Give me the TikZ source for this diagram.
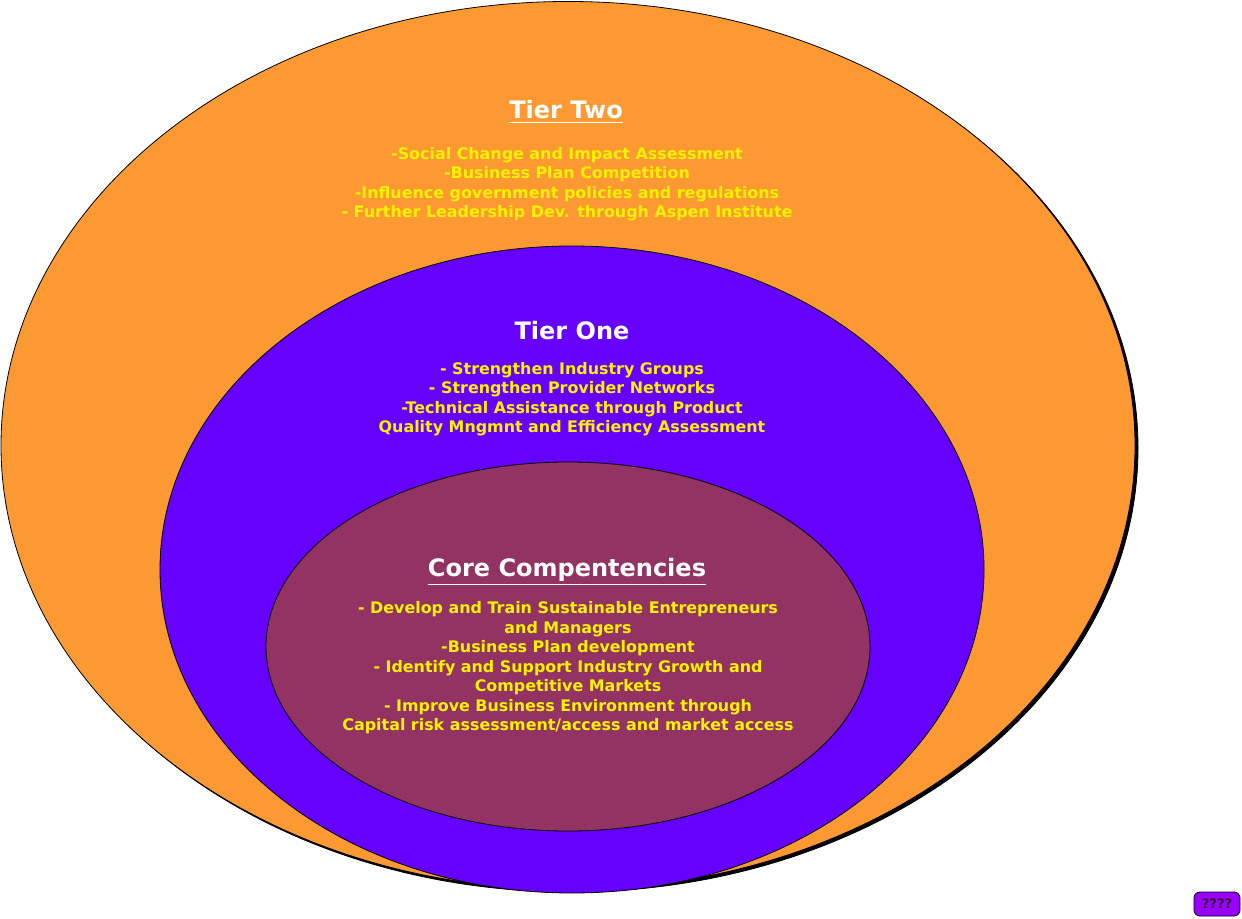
\documentclass[tikz,border=0pt]{standalone}
\usepackage{fontspec}
\setmainfont{DejaVu Sans}
\usetikzlibrary{positioning,shapes.geometric}

\definecolor{tiertwo}{RGB}{253,153,51}
\definecolor{tierone}{RGB}{102,0,255}
\definecolor{corecol}{RGB}{147,51,99}
\definecolor{tagcol}{RGB}{153,0,255}
\definecolor{tagtext}{RGB}{51,0,51}

\begin{document}
\begin{tikzpicture}[
    x=0.5pt, y=-0.5pt,
    ring/.style={ellipse, draw=black, line width=0.4pt, inner sep=0pt},
    title/.style={text=white, font=\fontsize{12}{14}\selectfont\bfseries},
    items/.style={text=yellow, align=center,
                  font=\fontsize{7.95}{9.75}\selectfont\bfseries},
  ]
  \useasboundingbox (0,0) rectangle (1242,919);

  %% Tier two (outer ring, with shadow)
  \node[ring, fill=black, minimum width=567pt, minimum height=444pt]
    (shadow) at (571,448) {};
  \node[ring, fill=tiertwo, minimum width=567pt, minimum height=444pt]
    (outer) at (568,445.5) {};

  %% Tier one
  \node[ring, fill=tierone, minimum width=412pt, minimum height=323.5pt]
    (middle) at (572,569.5) {};

  %% Core
  \node[ring, fill=corecol, minimum width=302pt, minimum height=184.5pt]
    (inner) at (568,646.5) {};

  %% Labels
  \node[title] (twohead) at (566,112) {\underline{Tier Two}};
  \node[items] (twobody) at (567,184) {-Social Change and Impact Assessment\\
    -Business Plan Competition\\
    -Influence government policies and regulations\\
    - Further Leadership Dev. through Aspen Institute};

  \node[title] (onehead) at (572,331) {Tier One};
  \node[items] (onebody) at (572,399) {- Strengthen Industry Groups\\
    - Strengthen Provider Networks\\
    -Technical Assistance through Product\\
    Quality Mngmnt and Efficiency Assessment};

  \node[title] (corehead) at (567,572) {\underline{Core Compentencies}};
  \node[items] (corebody) at (568,668) {- Develop and Train Sustainable Entrepreneurs\\
    and Managers\\
    -Business Plan development\\
    - Identify and Support Industry Growth and\\
    Competitive Markets\\
    - Improve Business Environment through\\
    Capital risk assessment/access and market access};

  %% Tag
  \node[draw=black, fill=tagcol, rounded corners=3pt, minimum width=23pt,
        minimum height=12pt, inner sep=0pt, text=tagtext,
        font=\fontsize{6.5}{7}\selectfont\bfseries] (tag) at (1217,904) {????};
\end{tikzpicture}
\end{document}
